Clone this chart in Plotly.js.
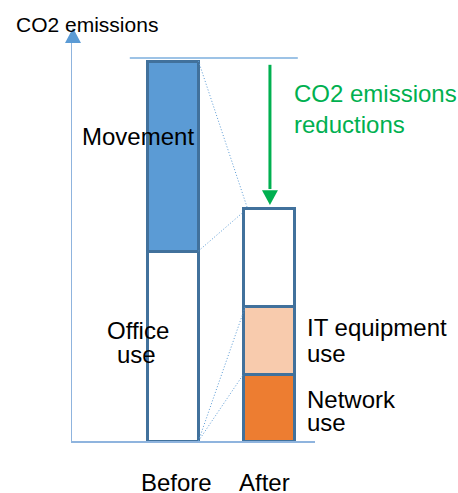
<!DOCTYPE html>
<html>
<head>
<meta charset="utf-8">
<script src="https://cdn.plot.ly/plotly-3.0.1.min.js"></script>
<style>html,body{margin:0;padding:0;background:#fff;}#chart{width:458px;height:493px;}</style>
</head>
<body>
<div id="chart"></div>
<script>
// ---- data ----
const categories = ['Before', 'After'];
const officeUse = [50, 0];
const movement = [50, 0];
const networkUse = [0, 17.6];
const itEquipmentUse = [0, 17.9];
const remaining = [0, 25.8];

// ---- layout geometry (pixels) ----
const W = 458, H = 493;
const M = {l: 72, r: 143, t: 40, b: 52};
const plotW = W - M.l - M.r, plotH = H - M.t - M.b;
const xRange = [-1.052, -1.052 + plotW / 96];
const yRange = [0, plotH / 3.8];
const px = x => (x - M.l) / plotW;           // pixel -> paper x
const py = y => (H - M.b - y) / plotH;       // pixel -> paper y

const FONT = '"Liberation Sans", Arial, sans-serif';
const outline = '#41719C';
const barW = 0.53;

function barTrace(name, y, color) {
  return {
    type: 'bar', name: name, x: categories, y: y, width: barW,
    marker: {color: color, line: {color: outline, width: 3}},
    hoverinfo: 'name+y'
  };
}

const traces = [
  barTrace('Office use', officeUse, '#FFFFFF'),
  barTrace('Movement', movement, '#5B9BD5'),
  barTrace('Network use', networkUse, '#ED7D31'),
  barTrace('IT equipment use', itEquipmentUse, '#F8CBAD'),
  barTrace('Remaining', remaining, '#FFFFFF')
];

const beforeTotal = officeUse[0] + movement[0];
const afterTotal = networkUse[1] + itEquipmentUse[1] + remaining[1];
const rightB = 0 + barW / 2, leftA = 1 - barW / 2;
const dot = {color: '#5B9BD5', width: 1, dash: '1px,2px'};

const shapes = [
  // top reference line
  {type: 'line', xref: 'x', yref: 'y', x0: -0.45, x1: 1.3, y0: beforeTotal + 0.8, y1: beforeTotal + 0.8,
   line: {color: '#9DC3E6', width: 2}},
  // dotted connectors
  {type: 'line', xref: 'x', yref: 'y', x0: rightB, y0: beforeTotal, x1: leftA + 0.04, y1: afterTotal, line: dot},
  {type: 'line', xref: 'x', yref: 'y', x0: rightB, y0: officeUse[0], x1: leftA, y1: afterTotal - 1, line: dot},
  {type: 'line', xref: 'x', yref: 'y', x0: rightB, y0: 0, x1: leftA + 0.02, y1: networkUse[1] + itEquipmentUse[1], line: dot},
  {type: 'line', xref: 'x', yref: 'y', x0: rightB, y0: 0, x1: leftA, y1: networkUse[1], line: dot},
  // y axis arrow head
  {type: 'path', xref: 'paper', yref: 'paper',
   path: `M ${px(65)} ${py(43)} L ${px(81)} ${py(43)} L ${px(73)} ${py(28)} Z`,
   fillcolor: '#5B9BD5', line: {width: 0}},
  // green reduction arrow
  {type: 'line', xref: 'x', yref: 'y', x0: 1.01, x1: 1.01, y0: beforeTotal - 1, y1: afterTotal + 5,
   line: {color: '#00B050', width: 3}},
  {type: 'path', xref: 'x', yref: 'y',
   path: `M ${1.01 - 0.083} ${afterTotal + 4.7} L ${1.01 + 0.083} ${afterTotal + 4.7} L 1.01 ${afterTotal + 0.8} Z`,
   fillcolor: '#00B050', line: {width: 0}}
];

function ann(text, x, y, opts) {
  return Object.assign({
    text: text, xref: 'paper', yref: 'paper', x: px(x), y: py(y),
    xanchor: 'left', yanchor: 'middle', showarrow: false,
    font: {family: FONT, size: 24, color: '#000'}
  }, opts || {});
}

const annotations = [
  ann('CO2 emissions', 14, 24.5, {font: {family: FONT, size: 21, color: '#000'}}),
  ann('Movement', 137.5, 136.5, {xanchor: 'center'}),
  ann('Office', 138, 330, {xanchor: 'center'}),
  ann('use', 136, 354.5, {xanchor: 'center'}),
  ann('IT equipment', 305, 327),
  ann('use', 305, 353.5),
  ann('Network', 305, 399),
  ann('use', 305, 422.5),
  ann('CO2 emissions', 292, 93.5, {font: {family: FONT, size: 24, color: '#00B050'}}),
  ann('reductions', 292, 124.5, {font: {family: FONT, size: 24, color: '#00B050'}}),
  ann('Before', 176.5, 483, {xanchor: 'center'}),
  ann('After', 264, 483, {xanchor: 'center'})
];

const axisLine = '#8FB4DE';
const layout = {
  width: W, height: H,
  margin: M,
  paper_bgcolor: '#fff', plot_bgcolor: '#fff',
  barmode: 'stack', showlegend: false,
  xaxis: {type: 'category', range: xRange, showline: true, linecolor: axisLine, linewidth: 1.5,
          showgrid: false, zeroline: false, showticklabels: false, ticks: '', fixedrange: true},
  yaxis: {range: yRange, showline: true, linecolor: axisLine, linewidth: 1.5,
          showgrid: false, zeroline: false, showticklabels: false, ticks: '', fixedrange: true},
  shapes: shapes,
  annotations: annotations,
  font: {family: FONT}
};

Plotly.newPlot('chart', traces, layout, {displayModeBar: false, staticPlot: true});
</script>
</body>
</html>
